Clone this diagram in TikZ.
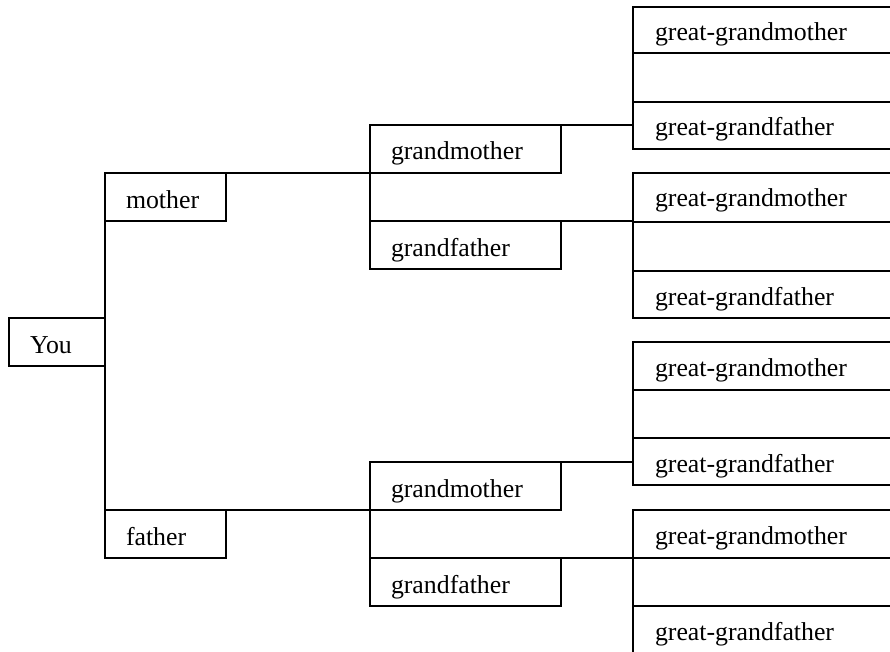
\documentclass[tikz,border=0pt]{standalone}
\usepackage{fontspec}
\setmainfont{Liberation Serif}
\begin{document}
\begin{tikzpicture}[x=1pt,y=-1pt,
  box/.style={draw, line width=1.5pt, outer sep=0pt, anchor=north west, inner xsep=21pt, inner ysep=0pt,
    align=left, text height=35pt, text depth=13pt, font=\fontsize{25.8}{30}\selectfont},
  youbox/.style={box, text width=54pt},
  parentbox/.style={box, text width=79pt},
  grandbox/.style={box, text width=149pt},
  greatbox/.style={box, text width=230pt, inner xsep=22pt, text height=34pt, text depth=#1},
  link/.style={line width=1.5pt}]
\useasboundingbox (0,0) rectangle (890,652);
\clip (0,0) rectangle (890,652);

% first generation
\node[youbox] (you) at (9,318) {You};

% parents
\node[parentbox] (mother) at (105,173) {mother};
\node[parentbox] (father) at (105,510) {father};

% grandparents
\node[grandbox] (gm1) at (370,125) {grandmother};
\node[grandbox] (gf1) at (370,221) {grandfather};
\node[grandbox] (gm2) at (370,462) {grandmother};
\node[grandbox] (gf2) at (370,558) {grandfather};

% great-grandparents, four stacks of three rows
\node[greatbox=12pt] (g1m) at (633,7)   {great-grandmother};
\node[greatbox=15pt] (g1e) at (633,53)  {};
\node[greatbox=13pt] (g1f) at (633,102) {great-grandfather};

\node[greatbox=15pt] (g2m) at (633,173) {great-grandmother};
\node[greatbox=15pt] (g2e) at (633,222) {};
\node[greatbox=13pt] (g2f) at (633,271) {great-grandfather};

\node[greatbox=14pt] (g3m) at (633,342) {great-grandmother};
\node[greatbox=14pt] (g3e) at (633,390) {};
\node[greatbox=13pt] (g3f) at (633,438) {great-grandfather};

\node[greatbox=14pt] (g4m) at (633,510) {great-grandmother};
\node[greatbox=14pt] (g4e) at (633,558) {};
\node[greatbox=14pt] (g4f) at (633,606) {great-grandfather};

% connectors
\draw[link] (mother.north west) -- (father.north west);
\draw[link] (mother.north east) -- (gm1.south west);
\draw[link] (gm1.south west) -- (gf1.north west);
\draw[link] (gm1.north east) -- (gm1.north east -| g1f.west);
\draw[link] (gf1.north east) -- (gf1.north east -| g2e.west);

\draw[link] (father.north east) -- (gm2.south west);
\draw[link] (gm2.south west) -- (gf2.north west);
\draw[link] (gm2.north east) -- (gm2.north east -| g3f.west);
\draw[link] (gf2.north east) -- (gf2.north east -| g4e.west);
\end{tikzpicture}
\end{document}
